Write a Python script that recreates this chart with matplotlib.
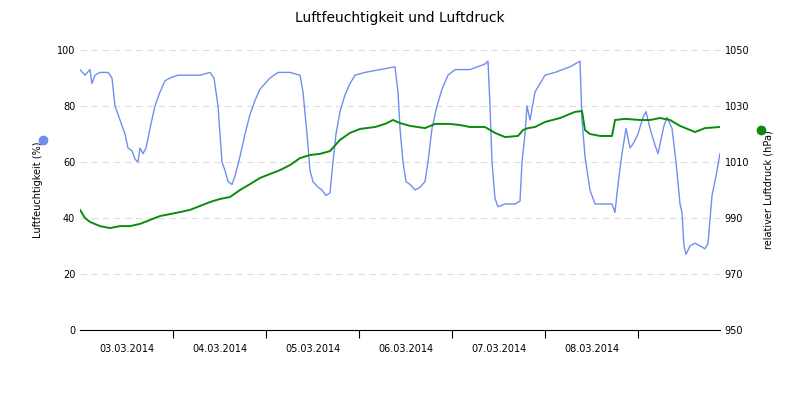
import matplotlib
matplotlib.use("Agg")
import matplotlib.pyplot as plt
import numpy as np

# time samples: read positions along the time axis (chart units, 93 per day, 80 = 03.03 00:00)
hum_t = [80,85,90,92,95,100,108,112,115,120,125,128,132,135,138,140,143,146,150,155,160,165,170,178,190,200,210,214,218,222,225,228,232,235,240,245,250,255,260,265,270,278,290,300,303,307,310,313,318,322,326,330,333,336,340,345,350,355,365,380,395,398,400,403,406,410,415,420,425,428,432,437,442,448,455,470,485,488,490,492,495,498,505,515,520,522,525,527,530,535,540,545,555,570,580,582,585,590,595,605,612,615,618,622,626,630,634,638,643,646,650,655,658,664,667,672,676,680,682,684,686,690,695,700,705,708,712,716,720]
hum_v = [93,91,93,88,91,92,92,90,80,75,70,65,64,61,60,65,63,65,72,80,85,89,90,91,91,91,92,90,80,60,57,53,52,55,62,70,77,82,86,88,90,92,92,91,85,70,57,53,51,50,48,49,60,70,78,84,88,91,92,93,94,85,72,60,53,52,50,51,53,60,72,80,86,91,93,93,95,96,80,60,47,44,45,45,46,60,70,80,75,85,88,91,92,94,96,75,62,50,45,45,45,42,52,63,72,65,67,70,76,78,72,66,63,73,76,72,60,45,42,30,27,30,31,30,29,31,48,55,63]
pr_t = [80,85,90,100,110,120,130,140,150,160,170,180,190,200,210,220,230,240,250,260,270,280,290,300,310,320,330,340,350,360,375,385,393,400,410,425,435,450,460,470,485,495,505,518,523,528,535,545,560,575,582,585,590,600,612,615,625,640,650,660,670,680,695,705,720]
pr_v = [992.9,990,988.6,987.1,986.4,987.1,987.1,987.9,989.3,990.7,991.4,992.1,992.9,994.3,995.7,996.8,997.5,1000,1002.1,1004.3,1005.7,1007.1,1008.9,1011.4,1012.5,1012.9,1013.9,1017.9,1020.4,1021.8,1022.5,1023.6,1025,1023.9,1022.9,1022.1,1023.6,1023.6,1023.2,1022.5,1022.5,1020.4,1018.9,1019.3,1021.4,1022.1,1022.5,1024.3,1025.7,1027.9,1028.2,1021.4,1020,1019.3,1019.3,1025,1025.4,1025,1025,1025.7,1025,1022.9,1020.7,1022.1,1022.5]
day_labels = ["03.03.2014","04.03.2014","05.03.2014","06.03.2014","07.03.2014","08.03.2014"]

ht = (np.array(hum_t) - 80) / 93.0
pt = (np.array(pr_t) - 80) / 93.0

fig = plt.figure(figsize=(8, 4), dpi=100)
ax = fig.add_axes([0.1, 0.175, 0.8, 0.7])
ax2 = ax.twinx()
ax.plot(ht, hum_v, color="#6f8ff0", lw=1)
ax2.plot(pt, pr_v, color="#0a8c0a", lw=1.4)
ax.set_xlim(0, 640/93)
ax.set_ylim(0, 100)
ax2.set_ylim(950, 1050)
ax.set_yticks([0,20,40,60,80,100])
ax2.set_yticks([950,970,990,1010,1030,1050])
ax.yaxis.grid(True, ls=(0,(6,4)), color="#dddddd", lw=0.8)
ax.set_axisbelow(True)
ax.set_xticks(np.arange(1, 7))
ax.set_xticklabels([])
ax.set_xticks(np.arange(6) + 0.5, minor=True)
ax.set_xticklabels(day_labels, minor=True)
ax.tick_params(axis="x", which="minor", length=0, labelsize=7, pad=10)
ax.tick_params(axis="x", which="major", length=6, direction="out")
for a in (ax, ax2):
    for s in ("top", "left", "right"):
        a.spines[s].set_visible(False)
    a.tick_params(axis="y", length=0, labelsize=7)
ax2.spines["bottom"].set_visible(False)
ax.set_ylabel("Luftfeuchtigkeit (%)", fontsize=7, labelpad=10)
ax2.set_ylabel("relativer Luftdruck (hPa)", fontsize=7, labelpad=10)
fig.text(0.5, 0.955, "Luftfeuchtigkeit und Luftdruck", ha="center", va="center", fontsize=10)
fig.lines.append(plt.Line2D([0.054], [0.65], marker="o", color="#6f8ff0", ms=6, transform=fig.transFigure))
fig.lines.append(plt.Line2D([0.951], [0.675], marker="o", color="#0a8c0a", ms=6, transform=fig.transFigure))
fig.savefig("out.png", dpi=100)
